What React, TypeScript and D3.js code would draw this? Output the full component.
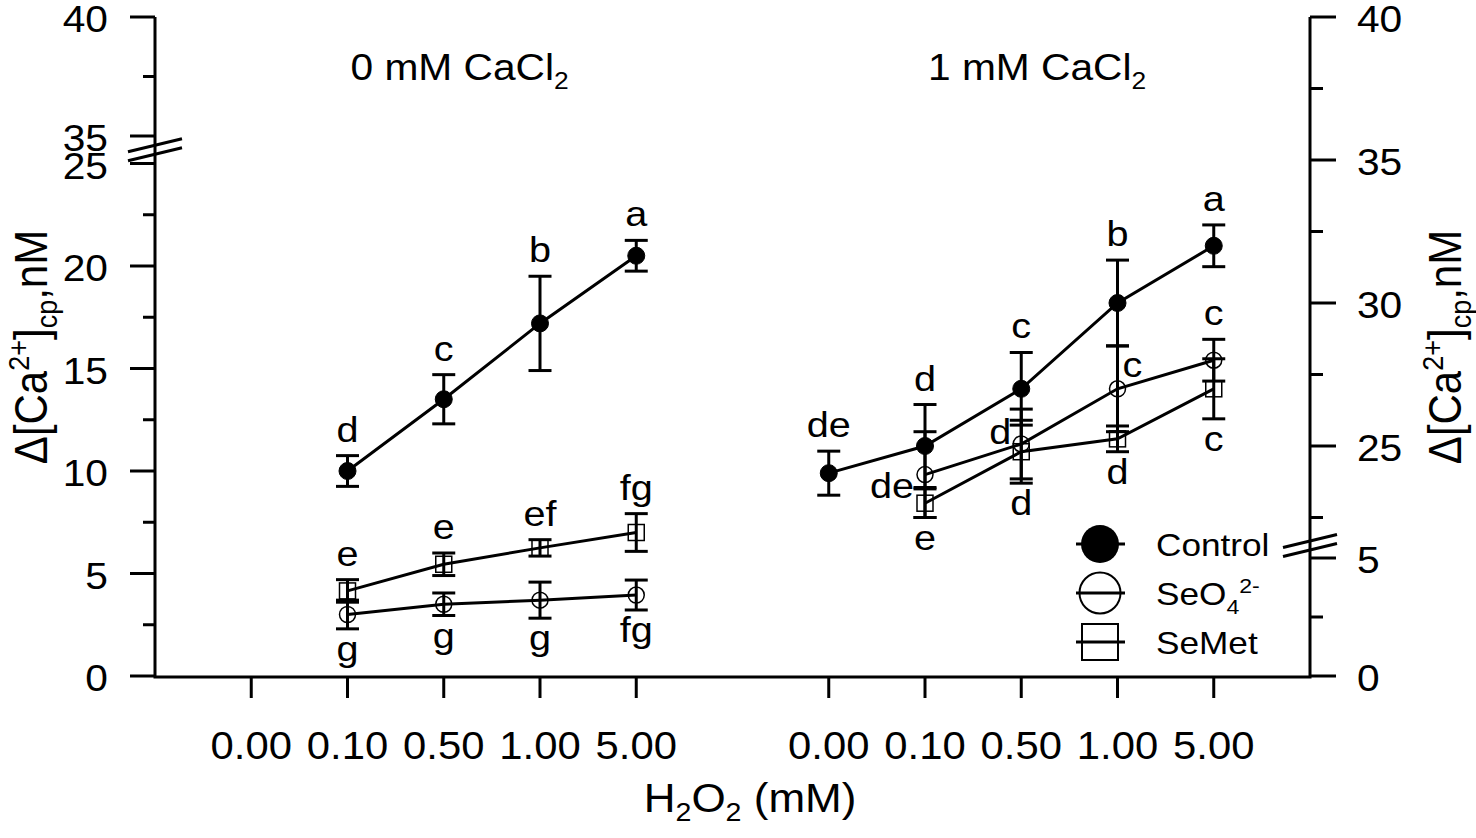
import * as d3 from 'd3';

// H2O2 doses on the x axis (same for both panels)
const doses = ['0.00', '0.10', '0.50', '1.00', '5.00'];
const panelTitles = ['0 mM CaCl', '1 mM CaCl'];

// 0 mM CaCl2 panel, left axis (nM)
const controlLeft = [null, 10.0, 13.5, 17.2, 20.5];
const controlLeftErr = [null, 0.75, 1.2, 2.3, 0.75];
const seo4Left = [null, 3.0, 3.5, 3.7, 3.95];
const seo4LeftErr = [null, 0.7, 0.55, 0.88, 0.73];
const semetLeft = [null, 4.15, 5.45, 6.25, 7.0];
const semetLeftErr = [null, 0.55, 0.55, 0.4, 0.92];

// 1 mM CaCl2 panel, right axis (nM)
const controlRight = [24.05, 25.0, 27.0, 30.0, 32.0];
const controlRightErr = [0.77, 1.45, 1.27, 1.5, 0.73];
const seo4Right = [null, 24.0, 25.07, 27.0, 28.0];
const seo4RightErr = [null, 1.5, 1.22, 1.5, 0.73];
const semetRight = [null, 23.0, 24.8, 25.25, 27.0];
const semetRightErr = [null, 0.5, 1.1, 0.45, 1.05];

// significance letters and where they sit
const controlLeftLetters = [null, 'd', 'c', 'b', 'a'];
const seo4LeftLetters = [null, 'g', 'g', 'g', 'fg'];
const semetLeftLetters = [null, 'e', 'e', 'ef', 'fg'];
const controlRightLetters = ['de', 'd', 'c', 'b', 'a'];
const seo4RightLetters = [null, 'de', 'd', 'c', 'c'];
const semetRightLetters = [null, 'e', 'd', 'd', 'c'];
const seo4RightPlace = [null, 'lowerLeft', 'left', 'right', 'above'];

// axis ticks
const leftLowMajor = [0, 5, 10, 15, 20, 25];
const leftLowMinor = [2.5, 7.5, 12.5, 17.5, 22.5];
const leftUpMajor = [35, 40];
const leftUpMinor = [37.5];
const rightLowMajor = [0, 5];
const rightLowMinor = [2.5];
const rightUpMajor = [25, 30, 35, 40];
const rightUpMinor = [22.5, 27.5, 32.5, 37.5];

const FONT = '"Liberation Sans", Arial, Helvetica, sans-serif';
const SX = 1.1;
const W = 1476;
const H = 838;
const axL = 155;
const axR = 1310;
const axB = 677;

const x = d3.scaleLinear().domain([0, 12]).range([axL, axR]);
const slot = (panel: number, i: number) => x(panel * 6 + i + 1);

const yLeftLow = d3.scaleLinear().domain([0, 25]).range([676, 163.5]);
const yLeftUp = d3.scaleLinear().domain([35, 40]).range([136, 17]);
const yRightLow = d3.scaleLinear().domain([0, 5]).range([676, 558]);
const yRightUp = d3.scaleLinear().domain([25, 40]).range([446, 17]);

function T({ x, y, size, anchor = 'middle', children }: any) {
  return (
    <text
      transform={`translate(${x},${y}) scale(${SX},1)`}
      fontSize={size}
      textAnchor={anchor}
      fontFamily={FONT}
      fill="#000"
    >
      {children}
    </text>
  );
}

type Kind = 'filled' | 'circle' | 'square';

function Series({ panel, vals, errs, letters, places, y, kind, defPlace }: any) {
  const pts = vals
    .map((v: number | null, i: number) => (v == null ? null : { i, v, e: errs[i] }))
    .filter(Boolean);
  const line = d3
    .line<any>()
    .x((d) => slot(panel, d.i))
    .y((d) => y(d.v));
  return (
    <g>
      <path d={line(pts) || ''} fill="none" stroke="#000" strokeWidth={3} />
      {pts.map((d: any) => {
        const cx = slot(panel, d.i);
        const cy = y(d.v);
        const top = y(d.v + d.e);
        const bot = y(d.v - d.e);
        return (
          <g key={d.i} stroke="#000">
            <line x1={cx} x2={cx} y1={top} y2={bot} strokeWidth={3} />
            <line x1={cx - 11.5} x2={cx + 11.5} y1={top} y2={top} strokeWidth={3} />
            <line x1={cx - 11.5} x2={cx + 11.5} y1={bot} y2={bot} strokeWidth={3} />
            {kind === 'filled' && <circle cx={cx} cy={cy} r={8.5} fill="#000" />}
            {kind === 'circle' && (
              <circle cx={cx} cy={cy} r={8} fill="none" strokeWidth={1.5} />
            )}
            {kind === 'square' && (
              <rect x={cx - 8} y={cy - 8} width={16} height={16} fill="none" strokeWidth={1.5} />
            )}
          </g>
        );
      })}
      {pts.map((d: any) => {
        const txt = letters[d.i];
        if (!txt) return null;
        const cx = slot(panel, d.i);
        const cy = y(d.v);
        const place = (places && places[d.i]) || defPlace;
        if (place === 'above')
          return <T key={'l' + d.i} x={cx} y={y(d.v + d.e) - 14} size={36}>{txt}</T>;
        if (place === 'below')
          return <T key={'l' + d.i} x={cx} y={y(d.v - d.e) + 32} size={36}>{txt}</T>;
        if (place === 'left')
          return <T key={'l' + d.i} x={cx - 10} y={cy} size={36} anchor="end">{txt}</T>;
        if (place === 'lowerLeft')
          return <T key={'l' + d.i} x={cx - 11} y={cy + 23} size={36} anchor="end">{txt}</T>;
        return <T key={'l' + d.i} x={cx + 5} y={cy - 12} size={36} anchor="start">{txt}</T>;
      })}
    </g>
  );
}

function BreakMark({ cx, cy }: { cx: number; cy: number }) {
  return (
    <g stroke="#000" strokeWidth={3}>
      <line x1={cx - 27} y1={cy - 4.5 + 6.5} x2={cx + 27} y2={cy - 4.5 - 6.5} />
      <line x1={cx - 27} y1={cy + 4.5 + 6.5} x2={cx + 27} y2={cy + 4.5 - 6.5} />
    </g>
  );
}

function YLabel({ x, y }: { x: number; y: number }) {
  return (
    <text
      transform={`translate(${x},${y}) rotate(-90) scale(1,${SX})`}
      fontSize={42}
      textAnchor="middle"
      fontFamily={FONT}
    >
      Δ[Ca
      <tspan fontSize={27} dy={-16}>2+</tspan>
      <tspan dy={16}>]</tspan>
      <tspan fontSize={27} dy={9}>cp</tspan>
      <tspan dy={-9}>,nM</tspan>
    </text>
  );
}

function Legend() {
  const items: { label: string; kind: Kind }[] = [
    { label: 'Control', kind: 'filled' },
    { label: 'SeO', kind: 'circle' },
    { label: 'SeMet', kind: 'square' },
  ];
  return (
    <g>
      {items.map((it, k) => {
        const cy = 544 + k * 49;
        const cx = 1100;
        return (
          <g key={it.label}>
            <line x1={1076} x2={1125} y1={cy} y2={cy} stroke="#000" strokeWidth={3} />
            {it.kind === 'filled' && <circle cx={cx} cy={cy} r={19} fill="#000" />}
            {it.kind === 'circle' && (
              <circle cx={cx} cy={cy} r={20.5} fill="none" stroke="#000" strokeWidth={2} />
            )}
            {it.kind === 'square' && (
              <rect x={cx - 18} y={cy - 18} width={36} height={36} fill="none" stroke="#000" strokeWidth={2} />
            )}
            <T x={1156} y={cy + 12} size={32} anchor="start">
              {it.label}
              {it.kind === 'circle' && (
                <>
                  <tspan fontSize={21} dy={9}>4</tspan>
                  <tspan fontSize={21} dy={-21}>2-</tspan>
                </>
              )}
            </T>
          </g>
        );
      })}
    </g>
  );
}

export default function App() {
  return (
    <div style={{ position: 'absolute', left: 0, top: 0 }}>
      <svg width={W} height={H} style={{ display: 'block', background: '#fff' }}>
        {/* axes */}
        <g stroke="#000" strokeWidth={3}>
          <line x1={axL} x2={axL} y1={17} y2={axB} />
          <line x1={axR} x2={axR} y1={17} y2={axB} />
          <line x1={axL - 1.5} x2={axR + 1.5} y1={axB} y2={axB} />
          {leftLowMajor.map((v) => (
            <line key={'llM' + v} x1={axL - 25} x2={axL} y1={yLeftLow(v)} y2={yLeftLow(v)} />
          ))}
          {leftLowMinor.map((v) => (
            <line key={'llm' + v} x1={axL - 12} x2={axL} y1={yLeftLow(v)} y2={yLeftLow(v)} />
          ))}
          {leftUpMajor.map((v) => (
            <line key={'luM' + v} x1={axL - 25} x2={axL} y1={yLeftUp(v)} y2={yLeftUp(v)} />
          ))}
          {leftUpMinor.map((v) => (
            <line key={'lum' + v} x1={axL - 12} x2={axL} y1={yLeftUp(v)} y2={yLeftUp(v)} />
          ))}
          {rightLowMajor.map((v) => (
            <line key={'rlM' + v} x1={axR} x2={axR + 26} y1={yRightLow(v)} y2={yRightLow(v)} />
          ))}
          {rightLowMinor.map((v) => (
            <line key={'rlm' + v} x1={axR} x2={axR + 13} y1={yRightLow(v)} y2={yRightLow(v)} />
          ))}
          {rightUpMajor.map((v) => (
            <line key={'ruM' + v} x1={axR} x2={axR + 26} y1={yRightUp(v)} y2={yRightUp(v)} />
          ))}
          {rightUpMinor.map((v) => (
            <line key={'rum' + v} x1={axR} x2={axR + 13} y1={yRightUp(v)} y2={yRightUp(v)} />
          ))}
          {[0, 1].map((p) =>
            doses.map((d, i) => (
              <line key={p + d} x1={slot(p, i)} x2={slot(p, i)} y1={axB} y2={axB + 21} />
            ))
          )}
        </g>
        <BreakMark cx={axL} cy={(yLeftLow(25) + yLeftUp(35)) / 2} />
        <BreakMark cx={axR} cy={yRightLow(5) - 12.5} />

        {/* tick labels */}
        {[...leftLowMajor.map((v) => [v, yLeftLow(v)]), ...leftUpMajor.map((v) => [v, yLeftUp(v)])].map(
          ([v, yy]) => (
            <T key={'lt' + v} x={108} y={yy + 15} size={37} anchor="end">
              {v}
            </T>
          )
        )}
        {[...rightLowMajor.map((v) => [v, yRightLow(v)]), ...rightUpMajor.map((v) => [v, yRightUp(v)])].map(
          ([v, yy]) => (
            <T key={'rt' + v} x={1357} y={yy + 15} size={37} anchor="start">
              {v}
            </T>
          )
        )}
        {[0, 1].map((p) =>
          doses.map((d, i) => (
            <T key={'xt' + p + d} x={slot(p, i)} y={759} size={38}>
              {d}
            </T>
          ))
        )}

        {/* axis titles */}
        <T x={750} y={812} size={40}>
          H<tspan fontSize={26} dy={9}>2</tspan>
          <tspan dy={-9}>O</tspan>
          <tspan fontSize={26} dy={9}>2</tspan>
          <tspan dy={-9}> (mM)</tspan>
        </T>
        <YLabel x={47} y={347} />
        <YLabel x={1461} y={347} />

        {/* panel titles */}
        {panelTitles.map((t, p) => (
          <T key={t} x={slot(p, 1) + 3} y={80} size={37} anchor="start">
            {t}
            <tspan fontSize={24} dy={9}>2</tspan>
          </T>
        ))}

        {/* data */}
        <Series panel={0} vals={controlLeft} errs={controlLeftErr} letters={controlLeftLetters} y={yLeftLow} kind="filled" defPlace="above" />
        <Series panel={0} vals={seo4Left} errs={seo4LeftErr} letters={seo4LeftLetters} y={yLeftLow} kind="circle" defPlace="below" />
        <Series panel={0} vals={semetLeft} errs={semetLeftErr} letters={semetLeftLetters} y={yLeftLow} kind="square" defPlace="above" />
        <Series panel={1} vals={controlRight} errs={controlRightErr} letters={controlRightLetters} y={yRightUp} kind="filled" defPlace="above" />
        <Series panel={1} vals={seo4Right} errs={seo4RightErr} letters={seo4RightLetters} places={seo4RightPlace} y={yRightUp} kind="circle" defPlace="above" />
        <Series panel={1} vals={semetRight} errs={semetRightErr} letters={semetRightLetters} y={yRightUp} kind="square" defPlace="below" />

        <Legend />
      </svg>
    </div>
  );
}
